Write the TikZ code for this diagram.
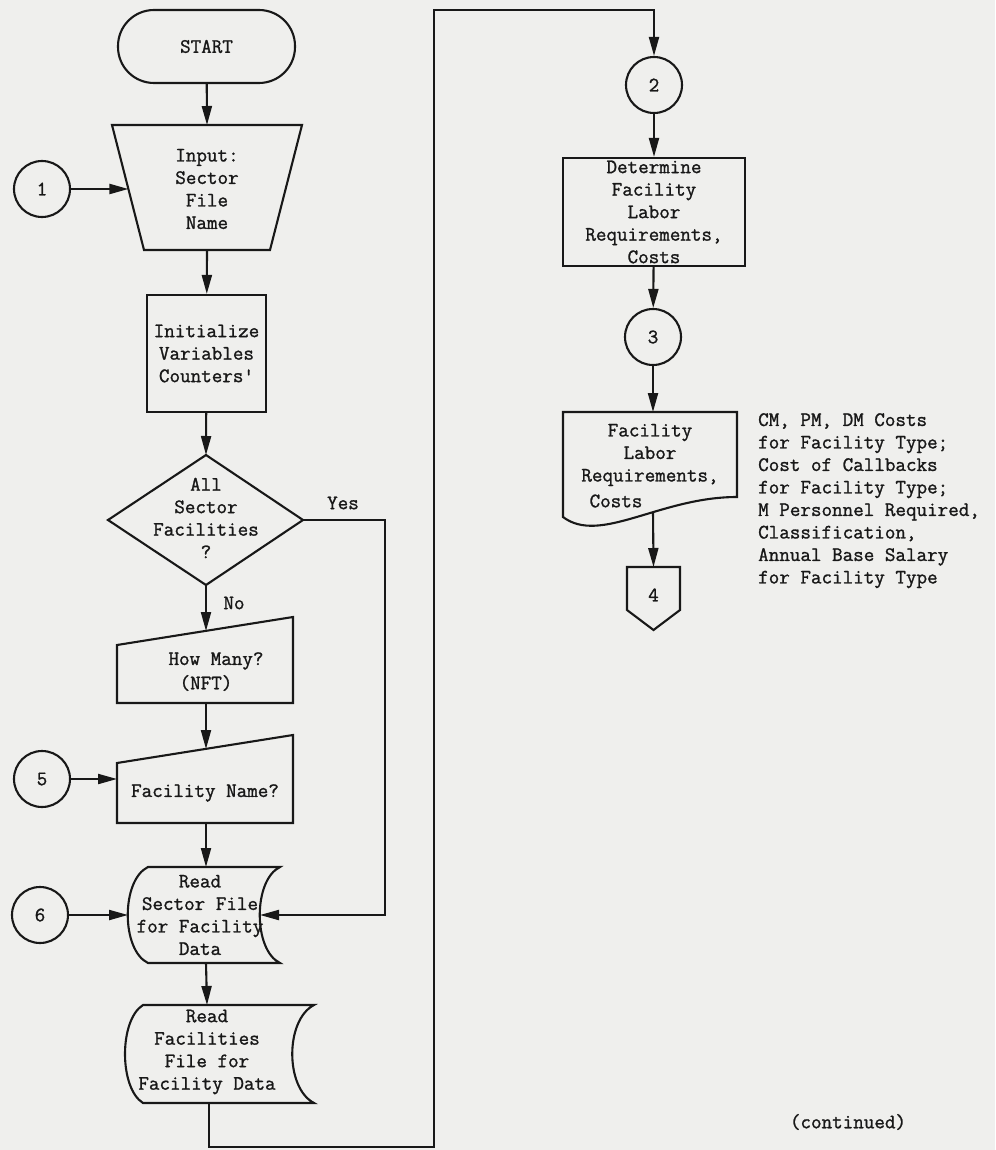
\documentclass[tikz,border=0pt]{standalone}
\usepackage{fontspec}
\newfontfamily\typew{Latin Modern Mono}[FakeBold=1.2]
\usetikzlibrary{arrows.meta}
\definecolor{paper}{RGB}{239,239,237}
\definecolor{ink}{RGB}{24,24,24}
\begin{document}
\begin{tikzpicture}[x=1pt,y=-1pt,
  every node/.style={font=\typew\fontsize{20.5}{22.5}\selectfont, text=ink, inner sep=0pt},
  outline/.style={draw=ink, line width=2.1pt, line join=miter},
  flow/.style={draw=ink, line width=2.1pt, -{Triangle[length=19pt,width=10pt]}},
  conn/.style={circle, draw=ink, line width=2.1pt, minimum size=56pt},
  procbox/.style={draw=ink, line width=2.1pt, align=center},
  lbl/.style={align=center}]
\fill[paper] (0,0) rectangle (995,1150);
\useasboundingbox (0,0) rectangle (995,1150);

% ---------- left column ----------
\node[draw=ink, line width=2.1pt, rounded corners=36pt, minimum width=177pt, minimum height=73pt] (start) at (206.5,46.5) {START};

% input trapezoid
\draw[outline] (112,125) -- (302,125) -- (270,250) -- (144,250) -- cycle;
\node[lbl] (inp) at (207,189) {Input:\\Sector\\File\\Name};
\coordinate (inp-n) at (207,125);
\coordinate (inp-s) at (207,250);
\coordinate (inp-w) at (128.4,189);

\node[conn] (c1) at (42,189) {1};

\node[procbox, minimum width=119pt, minimum height=117pt] (init) at (206.5,353.5) {Initialize\\Variables\\Counters'};

% decision
\coordinate (dia-n) at (206,455);
\coordinate (dia-e) at (303,520);
\coordinate (dia-s) at (206,585);
\coordinate (dia-w) at (108,520);
\draw[outline] (dia-n) -- (dia-e) -- (dia-s) -- (dia-w) -- cycle;
\node[lbl] (dia) at (206,518) {All\\Sector\\Facilities\\?};
\node[lbl] (yes) at (343,503) {Yes};
\node[lbl] (no) at (234,603) {No};

% manual input 1
\draw[outline] (117,645) -- (293,617) -- (293,703) -- (117,703) -- cycle;
\node[lbl] (hm) at (216,661) {How Many?};
\node[lbl] (nft) at (206,683) {(NFT)};
\coordinate (mi1-n) at (206,631);
\coordinate (mi1-s) at (206,703);

% manual input 2
\draw[outline] (117,763) -- (293,735) -- (293,823) -- (117,823) -- cycle;
\node[lbl] (fname) at (205,793) {Facility Name?};
\coordinate (mi2-n) at (206,749);
\coordinate (mi2-s) at (206,823);
\coordinate (mi2-w) at (117,779);

\node[conn] (c5) at (42,779) {5};

% stored data 1
\draw[outline] (148,867) -- (280,867) .. controls (253,880) and (253,950) .. (280,963)
  -- (148,963) .. controls (121,950) and (121,880) .. (148,867) -- cycle;
\node[lbl] (rs) at (200,915) {Read\\Sector File\\for Facility\\Data};
\coordinate (sd1-n) at (206,867);
\coordinate (sd1-s) at (206,963);
\coordinate (sd1-w) at (128,915);
\coordinate (sd1-e) at (260,915);

\node[conn] (c6) at (40,915) {6};

% stored data 2
\draw[outline] (143,1005) -- (314,1005) .. controls (285,1020) and (285,1088) .. (314,1103)
  -- (143,1103) .. controls (119,1088) and (119,1020) .. (143,1005) -- cycle;
\node[lbl] (rf) at (207,1052) {Read\\Facilities\\File for\\Facility Data};
\coordinate (sd2-n) at (207,1005);
\coordinate (sd2-s) at (209,1103);

% ---------- right column ----------
\node[conn] (c2) at (654,85) {2};
\node[procbox, minimum width=182pt, minimum height=108pt] (det) at (654,212) {Determine\\Facility\\Labor\\Requirements,\\Costs};
\node[conn] (c3) at (653,337) {3};

% document
\draw[outline] (563,412) -- (737,412) -- (737,497) .. controls (660,497) and (600,545) .. (563,517) -- cycle;
\node[lbl] (doctxt) at (650,455) {Facility\\Labor\\Requirements,};
\node[lbl] (doccost) at (616,501) {Costs};
\coordinate (doc-n) at (653,412);
\coordinate (doc-s) at (653,512);

% off-page connector
\draw[outline] (627,567) -- (680,567) -- (680,610) -- (653.5,630) -- (627,610) -- cycle;
\node[lbl] (c4) at (653.5,595) {4};
\coordinate (off-n) at (653.5,567);

\node[anchor=north west, align=left] (note) at (758,413) {CM, PM, DM Costs\\for Facility Type;\\Cost of Callbacks\\for Facility Type;\\M Personnel Required,\\Classification,\\Annual Base Salary\\for Facility Type};

\node (cont) at (848,1122) {(continued)};

% ---------- connectors ----------
\draw[flow] (start) -- (inp-n);
\draw[flow] (c1) -- (inp-w);
\draw[flow] (inp-s) -- (init);
\draw[flow] (init) -- (dia-n);
\draw[flow] (dia-s) -- (mi1-n);
\draw[flow] (mi1-s) -- (mi2-n);
\draw[flow] (c5) -- (mi2-w);
\draw[flow] (mi2-s) -- (sd1-n);
\draw[flow] (c6) -- (sd1-w);
\draw[flow] (sd1-s) -- (sd2-n);
\coordinate (y1) at (385,520);
\coordinate (y2) at (385,915);
\draw[flow] (dia-e) -- (y1) -- (y2) -- (sd1-e);
\coordinate (b1) at (209,1147);
\coordinate (b2) at (434,1147);
\coordinate (b3) at (434,10);
\coordinate (b4) at (654,10);
\draw[flow] (sd2-s) -- (b1) -- (b2) -- (b3) -- (b4) -- (c2);
\draw[flow] (c2) -- (det);
\draw[flow] (det) -- (c3);
\draw[flow] (c3) -- (doc-n);
\draw[flow] (doc-s) -- (off-n);
\end{tikzpicture}
\end{document}
